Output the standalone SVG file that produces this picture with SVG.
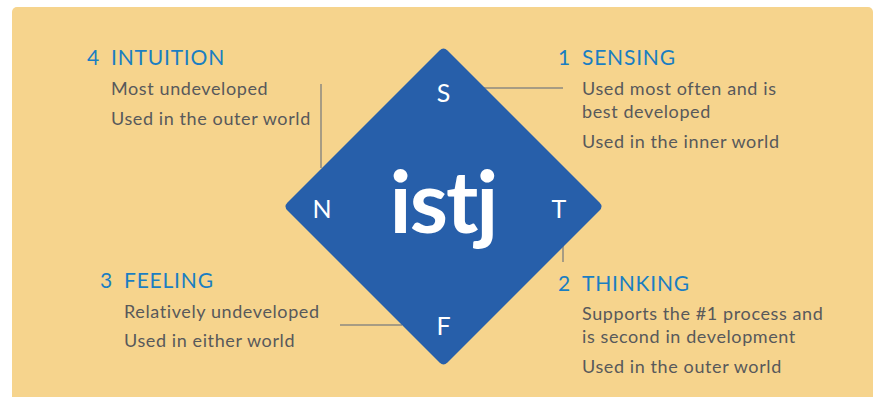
<svg xmlns="http://www.w3.org/2000/svg" width="876" height="397" viewBox="0 0 876 397">
<style>
.bg{fill:#F6D48D}
.dia{fill:#275FAA}
.h{font-family:Lato,"Noto Sans",sans-serif;font-size:21px;fill:#1A7EC2;letter-spacing:0.8px}
.b{font-family:Lato,"Noto Sans",sans-serif;font-size:18px;fill:#58595B;letter-spacing:0.6px}
.l{font-family:Lato,"Noto Sans",sans-serif;font-size:25px;fill:#fff;text-anchor:middle}
.big{font-family:Lato,"Noto Sans",sans-serif;font-size:87px;font-weight:bold;fill:#fff;text-anchor:middle;letter-spacing:-2px}
.c{stroke:#8C8A80;stroke-width:1.5;fill:none}
</style>
<rect width="876" height="397" fill="#fff"/>
<rect class="bg" x="12" y="7" width="861" height="400" rx="5"/>
<g id="connectors">
<line class="c" x1="321" y1="84" x2="321" y2="168"/>
<line class="c" x1="484" y1="88" x2="563" y2="88"/>
<line class="c" x1="563" y1="246" x2="563" y2="262"/>
<line class="c" x1="340" y1="325" x2="402" y2="325"/>
</g>
<g id="diamond">
<path class="dia" d="M439.5 50.5 Q443.5 46.5 447.5 50.5 L599.5 202.5 Q603.5 206.5 599.5 210.5 L447.5 362.5 Q443.5 366.5 439.5 362.5 L287.5 210.5 Q283.5 206.5 287.5 202.5 Z"/>
<text class="l" x="443.5" y="102">S</text>
<text class="l" x="322" y="218">N</text>
<text class="l" x="559" y="218">T</text>
<text class="l" x="443.5" y="335">F</text>
<text class="big" x="443" y="233">istj</text>
</g>
<g id="intuition">
<text class="h" x="87" y="65">4</text>
<text class="h" x="111" y="65">INTUITION</text>
<text class="b" x="111" y="95">Most undeveloped</text>
<text class="b" x="111" y="125">Used in the outer world</text>
</g>
<g id="sensing">
<text class="h" x="558" y="65">1</text>
<text class="h" x="582" y="65">SENSING</text>
<text class="b" x="582" y="95">Used most often and is</text>
<text class="b" x="582" y="118">best developed</text>
<text class="b" x="582" y="148">Used in the inner world</text>
</g>
<g id="feeling">
<text class="h" x="100" y="288">3</text>
<text class="h" x="124" y="288">FEELING</text>
<text class="b" x="124" y="318">Relatively undeveloped</text>
<text class="b" x="124" y="347">Used in either world</text>
</g>
<g id="thinking">
<text class="h" x="558" y="291">2</text>
<text class="h" x="582" y="291">THINKING</text>
<text class="b" x="582" y="320">Supports the #1 process and</text>
<text class="b" x="582" y="343">is second in development</text>
<text class="b" x="582" y="373">Used in the outer world</text>
</g>
</svg>
